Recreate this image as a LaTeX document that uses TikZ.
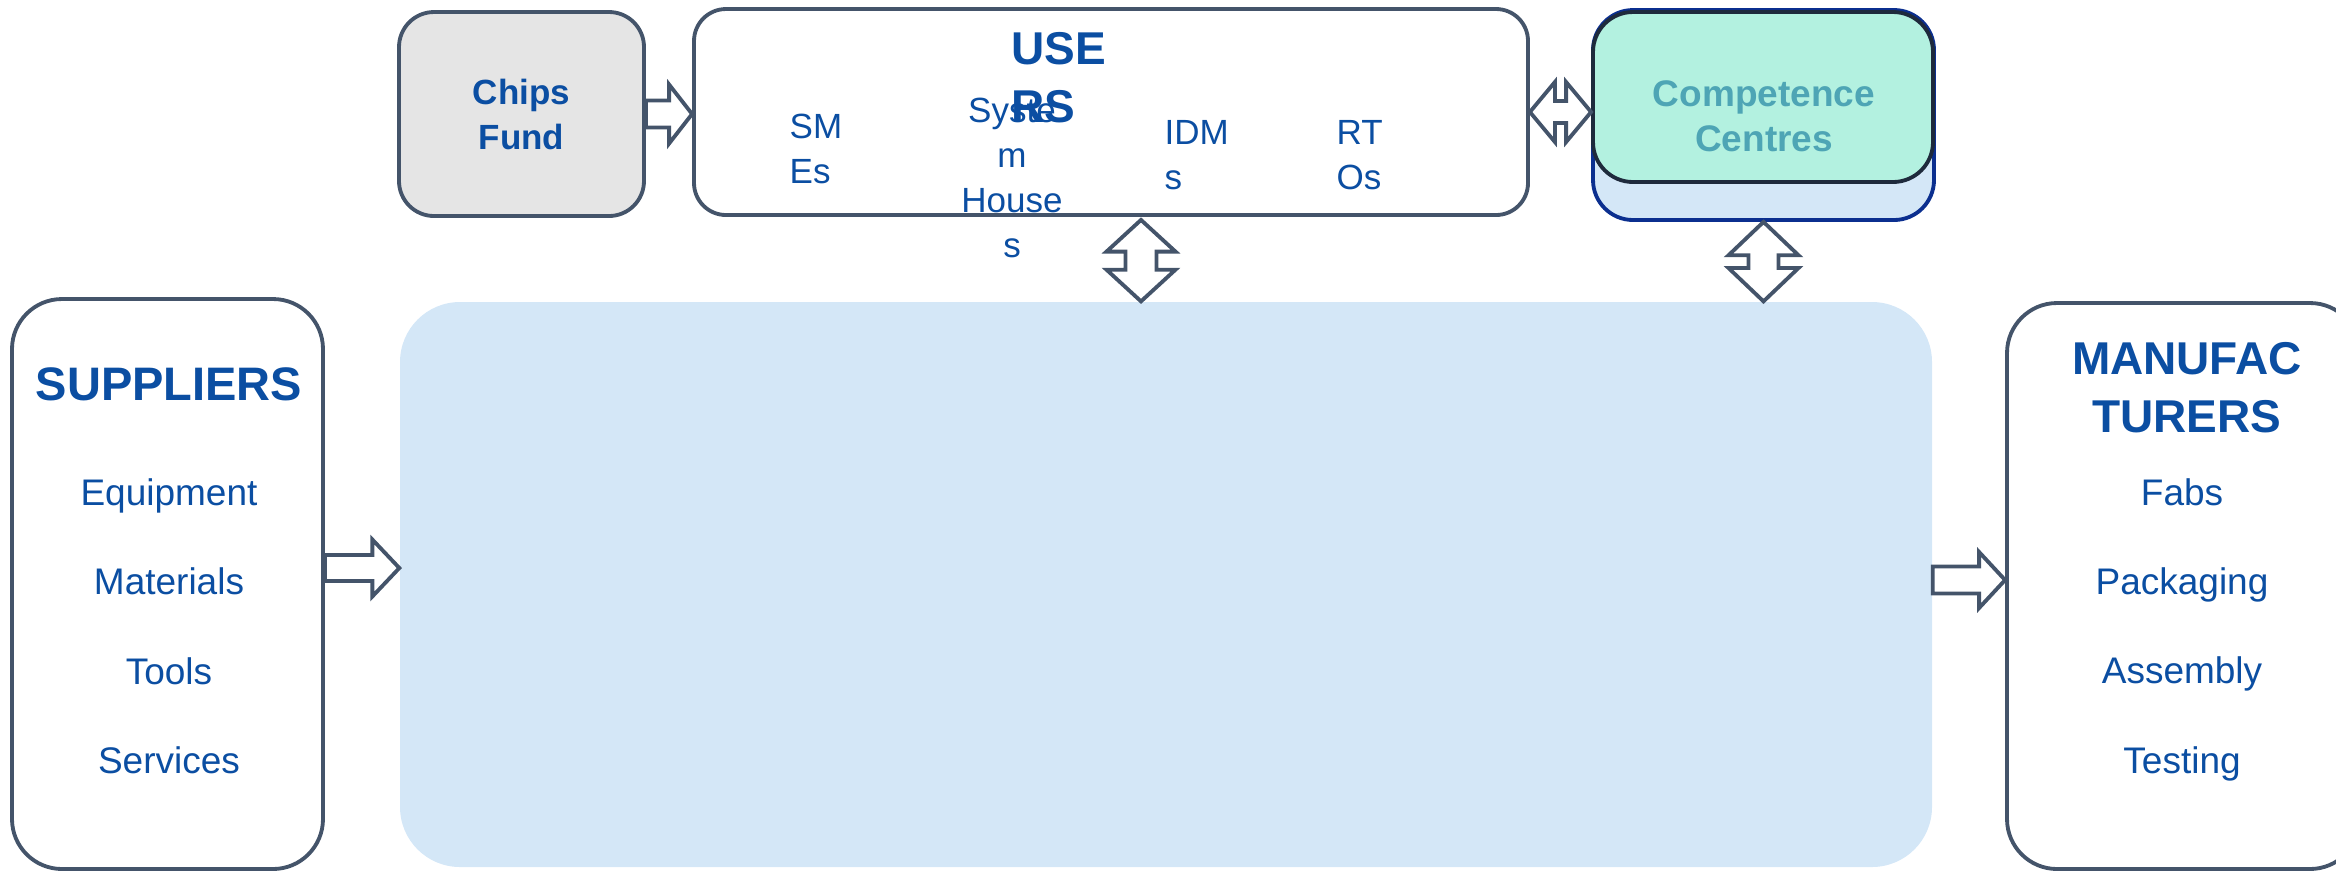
\documentclass[tikz,border=0pt]{standalone}
\usepackage{fontspec}
\setmainfont{Liberation Sans}
\usetikzlibrary{calc}

\definecolor{edgegray}{HTML}{44546A}
\definecolor{textblue}{HTML}{0B4EA2}
\definecolor{chipsgray}{HTML}{E5E5E5}
\definecolor{coreblue}{HTML}{D4E7F7}
\definecolor{mint}{HTML}{B3F1E0}
\definecolor{tealtext}{HTML}{4EA5B5}
\definecolor{navy}{HTML}{0B2F8F}
\definecolor{darkline}{HTML}{1E2A3C}

\tikzset{
  box/.style={draw=edgegray, line width=1.15pt, fill=white, inner sep=0pt},
  corebox/.style={fill=coreblue, rounded corners=18pt, inner sep=0pt},
  bigtitle/.style={text=textblue, inner sep=0pt, font=\bfseries\fontsize{14.1pt}{17pt}\selectfont},
  midtitle/.style={text=textblue, inner sep=0pt, align=center, font=\bfseries\fontsize{13.8pt}{17.3pt}\selectfont},
  smalltitle/.style={text=textblue, inner sep=0pt, align=center, font=\bfseries\fontsize{10.5pt}{13.5pt}\selectfont},
  usertext/.style={text=textblue, inner sep=0pt, font=\fontsize{10.5pt}{13.5pt}\selectfont},
  listtext/.style={text=textblue, inner sep=0pt, anchor=base, font=\fontsize{11.1pt}{13.5pt}\selectfont},
  fatline/.style={draw=edgegray, fill=white, line width=1.15pt, line join=miter},
}

\newcommand{\fatarrow}[5]{%
  \coordinate (fa-h) at ($(#2)!#5!(#1)$);
  \draw[fatline] ($(#1)!#3!90:(#2)$) -- ($(fa-h)!#3!-90:(#1)$) -- ($(fa-h)!#4!-90:(#1)$)
    -- (#2) -- ($(fa-h)!#4!90:(#1)$) -- ($(fa-h)!#3!90:(#1)$) -- ($(#1)!#3!-90:(#2)$) -- cycle;}

\newcommand{\twowayarrow}[5]{%
  \coordinate (ta-a) at ($(#1)!#5!(#2)$);
  \coordinate (ta-b) at ($(#2)!#5!(#1)$);
  \draw[fatline] (#1) -- ($(ta-a)!#4!90:(#2)$) -- ($(ta-a)!#3!90:(#2)$) -- ($(ta-b)!#3!-90:(#1)$)
    -- ($(ta-b)!#4!-90:(#1)$) -- (#2) -- ($(ta-b)!#4!90:(#1)$) -- ($(ta-b)!#3!90:(#1)$)
    -- ($(ta-a)!#3!-90:(#2)$) -- ($(ta-a)!#4!-90:(#2)$) -- cycle;}

\begin{document}
\begin{tikzpicture}[x=0.3pt,y=0.3pt]
\useasboundingbox (0,0) rectangle (2336,-872);

\node[corebox, minimum width=459.6pt, minimum height=169.5pt] (core) at (1166,-584.5) {};

\node[box, fill=chipsgray, rounded corners=10.5pt, minimum width=73.5pt, minimum height=61.2pt] (chips) at (521.5,-114) {};
\node[box, rounded corners=9.6pt, minimum width=250.2pt, minimum height=61.8pt] (users) at (1111,-112) {};
\node[box, draw=navy, fill=coreblue, rounded corners=12pt, minimum width=102.3pt, minimum height=63pt] (ccback) at (1763.5,-115) {};
\node[box, draw=darkline, fill=mint, rounded corners=12pt, minimum width=102pt, minimum height=51pt] (ccfront) at (1763,-97) {};
\node[box, rounded corners=15pt, minimum width=93.3pt, minimum height=171pt] (suppliers) at (167.5,-584) {};
\node[box, rounded corners=15pt, minimum width=105.9pt, minimum height=169.8pt] (manuf) at (2183.5,-586) {};

\coordinate (cf) at (chips.east -| users.west);
\fatarrow{chips.east}{cf}{4.05pt}{8.85pt}{6.9pt}

\coordinate (uc) at (users.east -| ccback.west);
\twowayarrow{users.east}{uc}{3.3pt}{9pt}{7.5pt}

\coordinate (u1) at ($(users.south)+(30,-3)$);
\coordinate (u2) at (u1 |- core.north);
\twowayarrow{u1}{u2}{4.65pt}{10.35pt}{9.5pt}

\coordinate (c1) at (ccback.south);
\coordinate (c2) at (c1 |- core.north);
\twowayarrow{c1}{c2}{4.5pt}{10.5pt}{10pt}

\coordinate (s1) at ($(suppliers.east)+(0,16)$);
\coordinate (s2) at (s1 -| core.west);
\fatarrow{s1}{s2}{3.9pt}{8.55pt}{8.1pt}

\coordinate (m2) at ($(manuf.west)+(0,6)$);
\coordinate (m1) at (m2 -| core.east);
\fatarrow{m1}{m2}{4.05pt}{8.4pt}{7.8pt}

\node[smalltitle, anchor=north] (chipsname) at (521.5,-78) {Chips\\Fund};
\node[midtitle, align=left, anchor=north west] (usersname) at (1011,-32) {USE\\RS};
\node[usertext, align=left, anchor=north west] (smes) at (789,-113) {SM\\Es};
\node[usertext, align=center, anchor=north] (syshouses) at (1012,-97) {Syste\\m\\House\\s};
\node[usertext, align=left, anchor=north west] (idms) at (1164,-120) {IDM\\s};
\node[usertext, align=left, anchor=north west] (rtos) at (1336,-120) {RT\\Os};
\node[smalltitle, text=tealtext, font=\bfseries\fontsize{11.1pt}{13.5pt}\selectfont, anchor=north] (ccname) at (1764,-80) {Competence\\Centres};

\node[bigtitle, anchor=base] (suppname) at (169,-400) {SUPPLIERS};
\node[listtext] (equip) at (169,-505) {Equipment};
\node[listtext] (mater) at (169,-594) {Materials};
\node[listtext] (tools) at (169,-684) {Tools};
\node[listtext] (servi) at (169,-773) {Services};

\node[midtitle, anchor=north] (manufname) at (2187,-342) {MANUFAC\\TURERS};
\node[listtext] (fabs) at (2182,-505) {Fabs};
\node[listtext] (packa) at (2182,-594) {Packaging};
\node[listtext] (assem) at (2182,-683) {Assembly};
\node[listtext] (testi) at (2182,-773) {Testing};

\end{tikzpicture}
\end{document}
